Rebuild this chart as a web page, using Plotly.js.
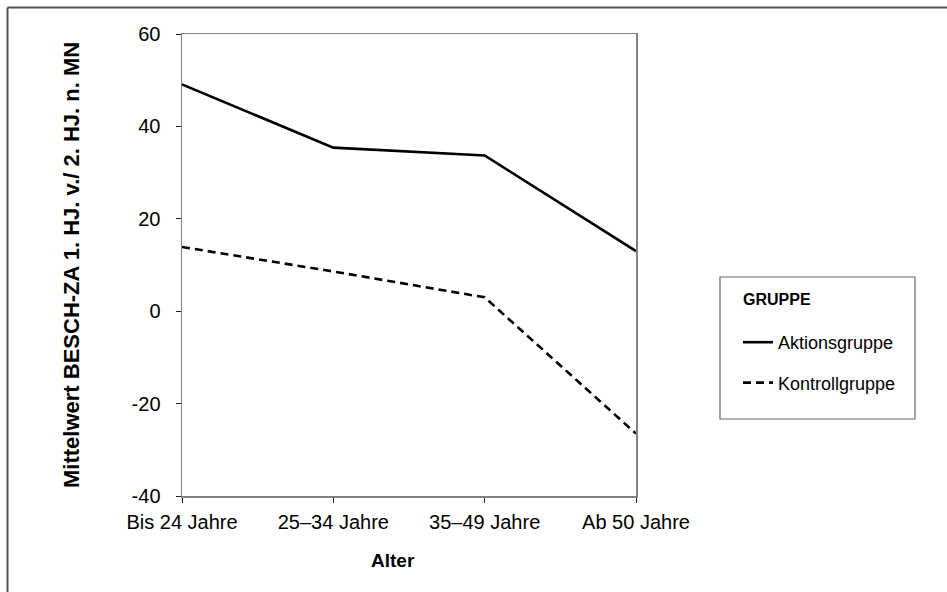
<!DOCTYPE html>
<html>
<head>
<meta charset="utf-8">
<script src="https://cdn.plot.ly/plotly-3.0.1.min.js"></script>
<style>html,body{margin:0;padding:0;background:#fff;} #chart{width:947px;height:592px;}</style>
</head>
<body>
<div id="chart"></div>
<script>
const categories = ["Bis 24 Jahre", "25–34 Jahre", "35–49 Jahre", "Ab 50 Jahre"];
const aktionsgruppe = [49.1, 35.4, 33.7, 13.0];
const kontrollgruppe = [13.9, 8.6, 3.0, -26.5];
const seriesNames = ["Aktionsgruppe", "Kontrollgruppe"];
const legendTitle = "GRUPPE";
const yTicks = [-40, -20, 0, 20, 40, 60];
const yTickLabels = ["-40", "-20", "0", "20", "40", "60"];

const W = 947, H = 592;
const L = 182, R = 636, T = 34, B = 496;
const pw = R - L, ph = B - T;
const px = x => (x - L) / pw;
const py = y => (B - y) / ph;

const font = "Liberation Sans, Arial, sans-serif";

const traces = [
  {x: categories, y: aktionsgruppe, name: seriesNames[0], type: "scatter", mode: "lines",
   legendgroup: "a", line: {color: "#000", width: 2.6}},
  {x: categories, y: kontrollgruppe, name: seriesNames[1], type: "scatter", mode: "lines",
   legendgroup: "b", line: {color: "#000", width: 2.6, dash: "8px,5px"}}
];

const layout = {
  width: W, height: H,
  margin: {l: L, r: W - R, t: T, b: H - B, pad: 0},
  paper_bgcolor: "#fff", plot_bgcolor: "#fff",
  font: {family: font, size: 18, color: "#000"},
  showlegend: true,
  legend: {
    x: px(738), y: py(324), xanchor: "left", yanchor: "top",
    bgcolor: "rgba(0,0,0,0)", borderwidth: 0,
    font: {size: 18}, traceorder: "grouped", tracegroupgap: 14, itemwidth: 30
  },
  xaxis: {
    type: "category", range: [0, 3], showgrid: false, zeroline: false,
    showline: true, linecolor: "#808080", linewidth: 1.5, mirror: true,
    ticks: "outside", ticklen: 5, tickcolor: "#222", tickwidth: 1,
    tickfont: {size: 20}, ticklabelstandoff: 2, fixedrange: true
  },
  yaxis: {
    range: [-40, 60], tickvals: yTicks, ticktext: yTickLabels, showgrid: false, zeroline: false,
    showline: true, linecolor: "#808080", linewidth: 1.5, mirror: true,
    ticks: "outside", ticklen: 5, tickcolor: "#222", tickwidth: 1,
    tickfont: {size: 20}, ticklabelstandoff: 11, fixedrange: true
  },
  annotations: [
    {text: "<b>Mittelwert BESCH-ZA 1. HJ. v./ 2. HJ. n. MN</b>", xref: "paper", yref: "paper",
     x: px(71), y: py(265), xanchor: "center", yanchor: "middle", textangle: -90,
     showarrow: false, font: {size: 22}},
    {text: "<b>Alter</b>", xref: "paper", yref: "paper", x: px(393), y: py(560),
     xanchor: "center", yanchor: "middle", showarrow: false, font: {size: 19}},
    {text: "<b>" + legendTitle + "</b>", xref: "paper", yref: "paper", x: px(741), y: py(300),
     xanchor: "left", yanchor: "middle", showarrow: false, font: {size: 16}}
  ],
  shapes: [
    {type: "line", xref: "paper", yref: "paper", x0: px(7.5), x1: px(960), y0: py(7.5), y1: py(7.5),
     line: {color: "#555", width: 2}},
    {type: "line", xref: "paper", yref: "paper", x0: px(7.5), x1: px(7.5), y0: py(7.5), y1: py(610),
     line: {color: "#555", width: 2}},
    {type: "rect", xref: "paper", yref: "paper", x0: px(720), x1: px(915), y0: py(277), y1: py(419),
     line: {color: "#666", width: 1.2}, fillcolor: "rgba(0,0,0,0)"}
  ]
};

Plotly.newPlot("chart", traces, layout, {displayModeBar: false, staticPlot: true});
</script>
</body>
</html>
